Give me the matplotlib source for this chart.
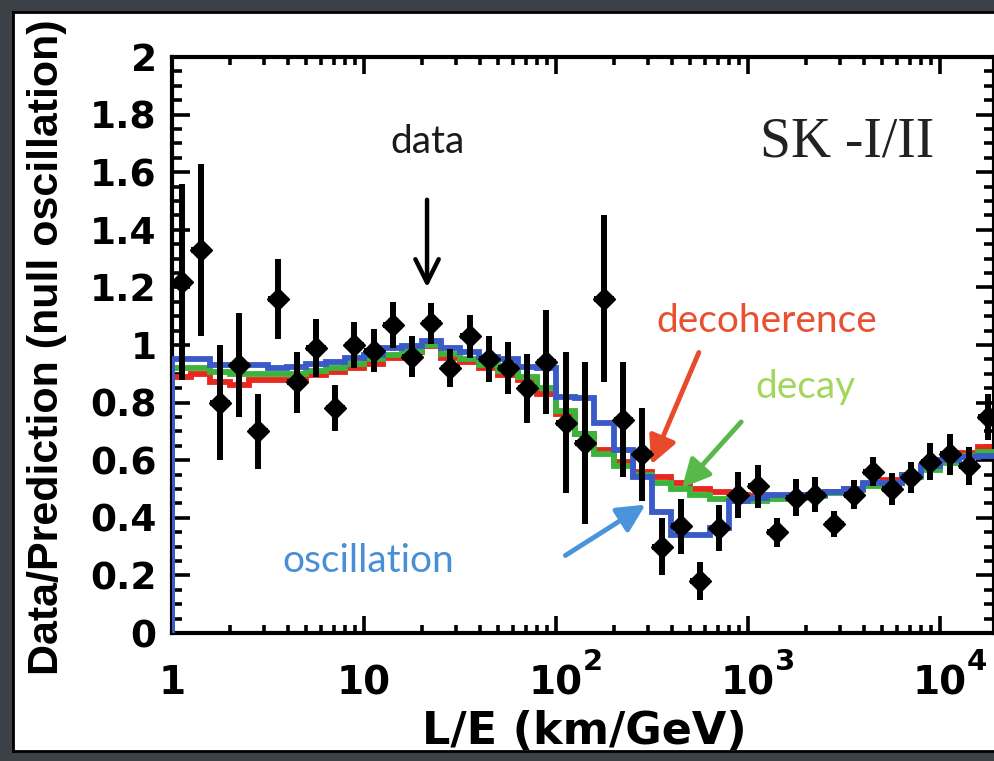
import numpy as np
import matplotlib.pyplot as plt
from matplotlib.ticker import MultipleLocator, LogLocator, NullFormatter

# L/E bin edges (km/GeV), 0.1 decade bins
edges = np.array([1.0, 1.259, 1.585, 1.995, 2.512, 3.162, 3.981, 5.012, 6.310, 7.943,
                  10.0, 12.59, 15.85, 19.95, 25.12, 31.62, 39.81, 50.12, 63.10, 79.43,
                  100.0, 125.9, 158.5, 199.5, 251.2, 316.2, 398.1, 501.2, 631.0, 794.3,
                  1000.0, 1259.0, 1585.0, 1995.0, 2512.0, 3162.0, 3981.0, 5012.0, 6310.0, 7943.0,
                  10000.0, 12589.0, 15849.0, 19953.0])

# data / prediction (null oscillation)
data_y = [1.22, 1.33, 0.80, 0.93, 0.70, 1.16, 0.87, 0.99, 0.78, 1.00,
          0.98, 1.07, 0.96, 1.075, 0.92, 1.03, 0.95, 0.92, 0.85, 0.94,
          0.73, 0.66, 1.16, 0.74, 0.62, 0.30, 0.37, 0.18, 0.365, 0.48,
          0.51, 0.35, 0.47, 0.48, 0.38, 0.48, 0.56, 0.50, 0.54, 0.595,
          0.62, 0.58, 0.75]
data_err = [0.34, 0.30, 0.20, 0.18, 0.13, 0.14, 0.105, 0.10, 0.08, 0.08,
            0.075, 0.08, 0.07, 0.07, 0.065, 0.075, 0.08, 0.09, 0.12, 0.18,
            0.245, 0.28, 0.29, 0.20, 0.16, 0.10, 0.095, 0.065, 0.08, 0.08,
            0.075, 0.05, 0.065, 0.06, 0.045, 0.05, 0.05, 0.055, 0.055, 0.065,
            0.07, 0.065, 0.08]

# model predictions per bin
oscillation = [0.95, 0.95, 0.93, 0.93, 0.93, 0.92, 0.925, 0.935, 0.94, 0.955,
               0.965, 0.99, 0.995, 1.015, 0.99, 0.975, 0.96, 0.95, 0.925, 0.92,
               0.82, 0.815, 0.73, 0.635, 0.54, 0.42, 0.34, 0.34, 0.365,
               0.46, 0.47, 0.48, 0.48, 0.48, 0.49, 0.50, 0.52, 0.52, 0.55,
               0.58, 0.60, 0.61, 0.615]
decoherence = [0.89, 0.90, 0.87, 0.86, 0.88, 0.88, 0.88, 0.895, 0.905, 0.92,
               0.935, 0.955, 0.975, 0.995, 0.955, 0.94, 0.92, 0.895, 0.88, 0.83,
               0.76, 0.69, 0.635, 0.595, 0.56, 0.54, 0.52, 0.50, 0.49,
               0.48, 0.475, 0.47, 0.475, 0.48, 0.49, 0.50, 0.515, 0.53, 0.55,
               0.575, 0.60, 0.625, 0.645]
decay = [0.92, 0.92, 0.905, 0.90, 0.90, 0.90, 0.90, 0.91, 0.92, 0.935,
         0.95, 0.965, 0.98, 1.0, 0.97, 0.95, 0.93, 0.91, 0.89, 0.85,
         0.77, 0.69, 0.62, 0.58, 0.55, 0.52, 0.50, 0.48, 0.465,
         0.46, 0.46, 0.465, 0.47, 0.475, 0.485, 0.495, 0.51, 0.52, 0.54,
         0.565, 0.59, 0.615, 0.63]

yticks = [0, 0.2, 0.4, 0.6, 0.8, 1.0, 1.2, 1.4, 1.6, 1.8, 2.0]
ytick_labels = ['0', '0.2', '0.4', '0.6', '0.8', '1', '1.2', '1.4', '1.6', '1.8', '2']
xticks = [1, 10, 100, 1000, 10000]
xtick_labels = ['1', '10', '10', '10', '10']
xtick_exps = ['', '', '2', '3', '4']

plt.rcParams['mathtext.fontset'] = 'dejavusans'

W, H = 995, 761
fig = plt.figure(figsize=(W / 100, H / 100), dpi=100)
fig.patch.set_facecolor('#3c4047')

# white slide panel, in pixel coordinates
panel = fig.add_axes([13 / W, 1 - 751 / H, 1.0, (751 - 12) / H])
panel.set_xlim(13, 13 + W)
panel.set_ylim(751, 12)
panel.set_xticks([])
panel.set_yticks([])
for s in panel.spines.values():
    s.set_linewidth(2)
    s.set_color('black')

ax = fig.add_axes([172 / W, 1 - 633 / H, (994 - 172) / W, (633 - 57) / H])
ax.set_facecolor('none')
ax.set_xscale('log')
ax.set_xlim(1, 10 ** ((994 - 172) / 192))
ax.set_ylim(0, 2)

ax.stairs(decoherence, edges, color='#e8281e', lw=4.2, baseline=0, zorder=2)
ax.stairs(decay, edges, color='#3cb43c', lw=4.2, baseline=0, zorder=3)
ax.stairs(oscillation, edges, color='#3a5bc7', lw=4.2, baseline=0, zorder=4)

centers = np.sqrt(edges[:-1] * edges[1:])
xerr = [centers - edges[:-1], edges[1:] - centers]
ax.errorbar(centers, data_y, yerr=data_err, xerr=xerr, fmt='D', color='black',
            ms=11, lw=4.3, capsize=0, zorder=5)

for s in ax.spines.values():
    s.set_linewidth(3)
ax.yaxis.set_minor_locator(MultipleLocator(0.05))
ax.xaxis.set_minor_locator(LogLocator(base=10, subs=range(2, 10), numticks=20))
ax.xaxis.set_minor_formatter(NullFormatter())
ax.tick_params(which='both', direction='in', top=True, right=True, width=2.6)
ax.tick_params(axis='y', which='major', length=13, pad=11)
ax.tick_params(axis='y', which='minor', length=7)
ax.tick_params(axis='x', which='major', length=12, pad=44)
ax.tick_params(axis='x', which='minor', length=6)

ax.set_yticks(yticks)
ax.set_yticklabels(ytick_labels, fontsize=27, fontweight='bold')
ax.set_xticks(xticks)
ax.set_xticklabels(xtick_labels, fontsize=28, fontweight='bold')
for lab in ax.get_xticklabels():
    lab.set_verticalalignment('baseline')
for xt, ex in zip(xticks, xtick_exps):
    if ex:
        ax.annotate(ex, xy=(xt, 0), xycoords=('data', 'axes fraction'),
                    xytext=(19.5, -27), textcoords='offset points',
                    ha='left', va='baseline', fontsize=21, fontweight='bold')

panel.text(58, 675, 'Data/Prediction (null oscillation)', rotation=90,
           rotation_mode='anchor', ha='left', va='baseline', fontsize=31,
           fontweight='heavy', family='Liberation Sans', clip_on=True)
panel.text(584, 744, 'L/E (km/GeV)', ha='center', va='baseline',
           fontsize=32, fontweight='bold')

# annotations
ax.text(21.5, 1.667, 'data', ha='center', va='baseline', family='Lato',
        fontsize=28, color='#1a1a1a')
ax.annotate('', xy=(21.3, 1.19), xytext=(21.3, 1.514),
            arrowprops=dict(arrowstyle='->', lw=3.2, color='black', mutation_scale=42))
ax.text(1256, 1.045, 'decoherence', ha='center', va='baseline', family='Lato',
        fontsize=28, color='#e9502f')
ax.annotate('', xy=(309, 0.576), xytext=(562, 0.983),
            arrowprops=dict(arrowstyle='-|>', lw=3.5, color='#e84a2c', mutation_scale=42))
ax.text(1982, 0.816, 'decay', ha='center', va='baseline', family='Lato',
        fontsize=28, color='#a5d65c')
ax.annotate('', xy=(443, 0.497), xytext=(942, 0.74),
            arrowprops=dict(arrowstyle='-|>', lw=3.5, color='#59b84a', mutation_scale=42))
ax.text(10.5, 0.212, 'oscillation', ha='center', va='baseline', family='Lato',
        fontsize=28, color='#4a8fd6')
ax.annotate('', xy=(301, 0.451), xytext=(108.8, 0.264),
            arrowprops=dict(arrowstyle='-|>', lw=3.5, color='#4a94dc', mutation_scale=42))
ax.text(3280, 1.653, 'SK -I/II', ha='center', va='baseline',
        family='Liberation Serif', fontsize=40, color='#222222')

fig.savefig('out.png', dpi=100, facecolor=fig.get_facecolor())
